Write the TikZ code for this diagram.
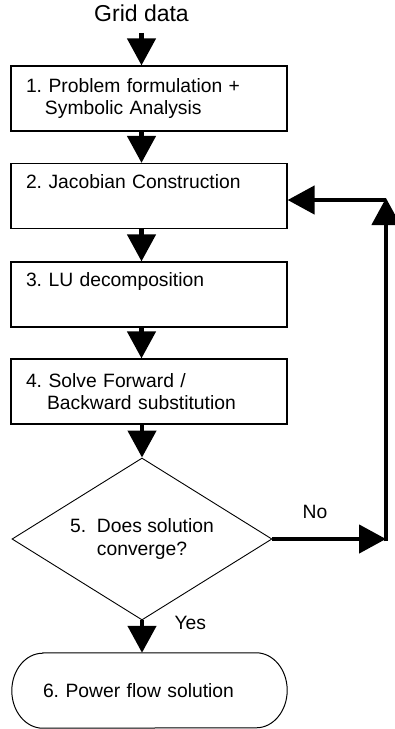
\documentclass[tikz,border=0pt]{standalone}
\usepackage{fontspec}
\setmainfont{Liberation Sans}
\usetikzlibrary{arrows.meta,shapes.geometric}
\frenchspacing
\begin{document}
\begin{tikzpicture}[x=1pt,y=-1pt,
  txt/.style={font=\fontsize{19.3}{22.5}\selectfont},
  procbox/.style={draw,line width=1.2pt,minimum height=65pt,text width=246pt,inner xsep=15pt,inner ysep=0pt,align=left,txt},
  flow/.style={line width=4.5pt,-{Triangle[width=28pt,length=27pt]}},
  ]
\useasboundingbox (0,0) rectangle (394,729);
\node[font=\fontsize{23}{27}\selectfont,anchor=base] (grid) at (141.5,21) {Grid data};
\node[procbox] (b1) at (149,98.5) {1. Problem formulation +\\\hspace*{19pt}Symbolic Analysis};
\node[procbox] (b2) at (149,196) {2. Jacobian Construction\\\strut};
\node[procbox] (b3) at (149,294.5) {3. LU decomposition\\\strut};
\node[procbox] (b4) at (149,391.5) {4. Solve Forward /\\\hspace*{21pt}Backward substitution};
\node[draw,diamond,aspect=1.6,minimum width=260pt,minimum height=162pt,inner sep=0pt,line width=0.9pt,align=center,font=\fontsize{19.3}{23}\selectfont] (dec) at (142,539) {5.\ \ Does solution\\converge?};
\node[minimum width=275pt,minimum height=75pt,text width=213pt,inner xsep=31pt,inner ysep=0pt,align=left,txt] (sol) at (149.5,690.5) {6. Power flow solution};
\draw[line width=1pt] ([xshift=31pt]sol.north west) -- ([xshift=-31pt]sol.north east)
  arc[start angle=90,end angle=-90,x radius=31pt,y radius=37.5pt]
  -- ([xshift=31pt]sol.south west)
  arc[start angle=270,end angle=90,x radius=31pt,y radius=37.5pt] -- cycle;
\node[txt,anchor=base west] (yes) at (171,629) {Yes};
\node[txt,anchor=base] (no) at (315,518) {No};
\coordinate (nr) at (386,539);
\coordinate (top) at (386,198);
\coordinate (fb) at (386,200);
\draw[flow,shorten <=8pt] (grid.south) -- (grid.south |- b1.north);
\draw[flow] (b1.south -| grid) -- (b2.north -| grid);
\draw[flow] (b2.south -| grid) -- (b3.north -| grid);
\draw[flow] (b3.south -| grid) -- (b4.north -| grid);
\draw[flow] (b4.south -| dec.north) -- (dec.north);
\draw[flow] (dec.south) -- (sol.north -| dec.south);
\draw[flow] (dec.east) -- (nr);
\draw[flow,shorten <=-2.25pt] (nr) -- (top);
\draw[flow] (fb) -- (fb -| b2.east);
\end{tikzpicture}
\end{document}
